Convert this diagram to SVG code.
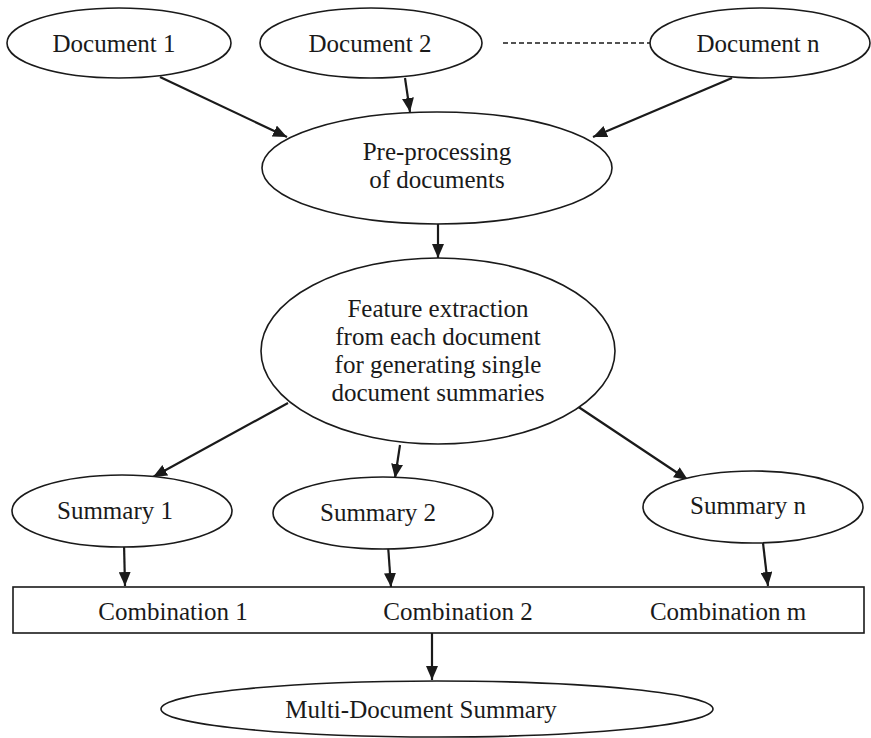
<svg xmlns="http://www.w3.org/2000/svg" width="871" height="738" viewBox="0 0 871 738">
  <defs>
    <style>
      .shape { fill: #ffffff; stroke: #1a1a1a; stroke-width: 1.6; }
      .edge { fill: none; stroke: #1a1a1a; stroke-width: 2.2; }
      .dash { fill: none; stroke: #1a1a1a; stroke-width: 1.4; stroke-dasharray: 5 3; }
      text { font-family: "Liberation Serif", "Times New Roman", serif; font-size: 25px; fill: #1a1a1a; text-anchor: middle; }
    </style>
    <marker id="arrow" viewBox="0 0 14 12" refX="14" refY="6" markerWidth="14" markerHeight="12" markerUnits="userSpaceOnUse" orient="auto">
      <path d="M0,0 L14,6 L0,12 Z" fill="#1a1a1a"/>
    </marker>
  </defs>

  <rect width="871" height="738" fill="#ffffff"/>

  <!-- connectors -->
  <g id="connectors">
    <line class="dash" x1="503" y1="43" x2="650" y2="43"/>
    <line class="edge" x1="160" y1="77" x2="287" y2="137" marker-end="url(#arrow)"/>
    <line class="edge" x1="405" y1="78" x2="410" y2="112" marker-end="url(#arrow)"/>
    <line class="edge" x1="732" y1="78" x2="593" y2="137" marker-end="url(#arrow)"/>
    <line class="edge" x1="438" y1="224" x2="438" y2="258" marker-end="url(#arrow)"/>
    <line class="edge" x1="288" y1="403" x2="153" y2="477" marker-end="url(#arrow)"/>
    <line class="edge" x1="400" y1="445" x2="395" y2="478" marker-end="url(#arrow)"/>
    <line class="edge" x1="577" y1="406" x2="688" y2="480" marker-end="url(#arrow)"/>
    <line class="edge" x1="124" y1="543" x2="125" y2="586" marker-end="url(#arrow)"/>
    <line class="edge" x1="388" y1="545" x2="391" y2="587" marker-end="url(#arrow)"/>
    <line class="edge" x1="763" y1="543" x2="768" y2="586" marker-end="url(#arrow)"/>
    <line class="edge" x1="432" y1="633" x2="432" y2="680" marker-end="url(#arrow)"/>
  </g>

  <!-- input documents -->
  <g id="doc1">
    <ellipse class="shape" cx="119" cy="43" rx="112" ry="35"/>
    <text x="114" y="52">Document 1</text>
  </g>
  <g id="doc2">
    <ellipse class="shape" cx="371" cy="43" rx="111" ry="35"/>
    <text x="370" y="52">Document 2</text>
  </g>
  <g id="docn">
    <ellipse class="shape" cx="760" cy="43" rx="110" ry="35"/>
    <text x="758" y="52">Document n</text>
  </g>

  <!-- processing stages -->
  <g id="preprocessing">
    <ellipse class="shape" cx="437" cy="168" rx="175" ry="56"/>
    <text x="437" y="160">Pre-processing</text>
    <text x="437" y="188">of documents</text>
  </g>
  <g id="feature-extraction">
    <ellipse class="shape" cx="438" cy="351" rx="177" ry="93"/>
    <text x="438" y="317">Feature extraction</text>
    <text x="438" y="345">from each document</text>
    <text x="438" y="373">for generating single</text>
    <text x="438" y="401">document summaries</text>
  </g>

  <!-- single-document summaries -->
  <g id="summary1">
    <ellipse class="shape" cx="122" cy="511" rx="110" ry="36"/>
    <text x="115" y="519">Summary 1</text>
  </g>
  <g id="summary2">
    <ellipse class="shape" cx="383" cy="513" rx="110" ry="36"/>
    <text x="378" y="521">Summary 2</text>
  </g>
  <g id="summaryn">
    <ellipse class="shape" cx="753" cy="507" rx="110" ry="36"/>
    <text x="748" y="514">Summary n</text>
  </g>

  <!-- combinations -->
  <g id="combinations">
    <rect class="shape" x="13" y="587" width="851" height="46"/>
    <text x="173" y="620">Combination 1</text>
    <text x="458" y="620">Combination 2</text>
    <text x="728" y="620">Combination m</text>
  </g>

  <!-- final output -->
  <g id="multi-summary">
    <ellipse class="shape" cx="437" cy="709" rx="276" ry="28"/>
    <text x="421" y="718">Multi-Document Summary</text>
  </g>
</svg>
